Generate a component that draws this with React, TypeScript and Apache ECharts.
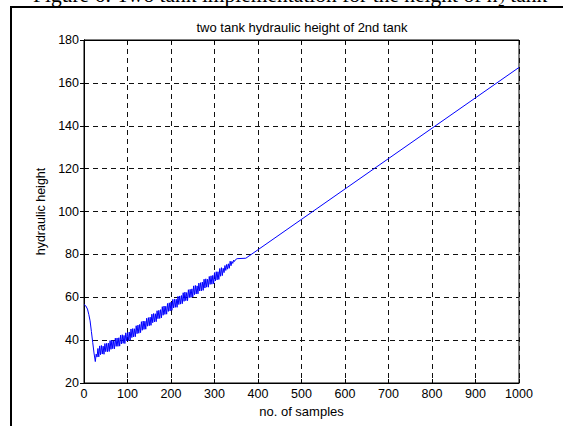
import React, { useEffect, useRef } from "react";
import * as echarts from "echarts";

const CAPTION = "Figure 6: Two tank implementation for the height of h\u2082 tank";
const TITLE = "two tank hydraulic height of 2nd tank";
const X_NAME = "no. of samples";
const Y_NAME = "hydraulic height";

const X_TICKS = [0, 100, 200, 300, 400, 500, 600, 700, 800, 900, 1000];
const Y_TICKS = [20, 40, 60, 80, 100, 120, 140, 160, 180];

// sample index
const samples = [
  0, 4, 8, 11, 14, 17, 20, 23, 26,
  28, 30, 32, 34, 36, 38, 40, 42, 44, 46, 48, 50, 52, 54, 56, 58, 60, 62, 64, 66, 68, 70,
  72, 74, 76, 78, 80, 82, 84, 86, 88, 90, 92, 94, 96, 98, 100, 102, 104, 106, 108, 110,
  112, 114, 116, 118, 120, 122, 124, 126, 128, 130, 132, 134, 136, 138, 140, 142, 144, 146, 148, 150,
  152, 154, 156, 158, 160, 162, 164, 166, 168, 170, 172, 174, 176, 178, 180, 182, 184, 186, 188, 190,
  192, 194, 196, 198, 200, 202, 204, 206, 208, 210, 212, 214, 216, 218, 220, 222, 224, 226, 228, 230,
  232, 234, 236, 238, 240, 242, 244, 246, 248, 250, 252, 254, 256, 258, 260, 262, 264, 266, 268, 270,
  272, 274, 276, 278, 280, 282, 284, 286, 288, 290, 292, 294, 296, 298, 300, 302, 304, 306, 308, 310,
  312, 314, 316, 318, 320, 322, 324, 326, 328, 330, 332, 334, 336, 338, 340, 342, 344, 346, 348,
  352, 372, 1000,
];

// hydraulic height of 2nd tank
const heights = [
  56.6, 56.0, 54.5, 52.0, 49.0, 44.0, 39.0, 34.0, 30.0,
  33.5, 32.1, 36.1, 32.2, 37.3, 33.2, 37.5, 33.5, 37.2, 33.4, 38.4, 34.6, 38.5, 34.6, 38.6, 34.7, 39.8, 35.7, 40.0, 36.0, 39.7, 35.9,
  40.9, 37.1, 41.0, 37.1, 41.1, 37.2, 42.3, 38.2, 42.5, 38.5, 42.2, 38.4, 43.4, 39.6, 43.5, 39.7, 43.8, 40.0, 45.2, 41.2,
  45.4, 41.5, 45.3, 41.6, 46.7, 43.0, 47.0, 43.2, 47.3, 43.5, 48.6, 44.6, 48.9, 45.0, 48.8, 45.1, 50.2, 46.5, 50.5, 46.7,
  50.7, 46.9, 52.1, 48.1, 52.4, 48.5, 52.3, 48.6, 53.7, 50.0, 53.9, 50.1, 54.2, 50.4, 55.6, 51.6, 55.9, 52.0, 55.8, 52.1,
  57.1, 53.4, 57.4, 53.6, 57.7, 53.9, 59.0, 55.0, 59.2, 55.3, 59.1, 55.3, 60.4, 56.6, 60.6, 56.8, 60.8, 57.0, 62.1, 58.1,
  62.4, 58.4, 62.2, 58.4, 63.5, 59.8, 63.7, 59.9, 63.9, 60.1, 65.3, 61.2, 65.5, 61.5, 65.3, 61.6, 66.6, 62.9, 66.8, 63.0,
  67.1, 63.2, 68.4, 64.3, 68.6, 64.7, 68.4, 64.7, 69.7, 66.0, 70.0, 66.1, 70.2, 66.3, 71.5, 67.6, 71.9, 68.1, 71.9, 68.3,
  73.4, 69.8, 73.8, 70.1, 73.5, 71.5, 74.8, 72.5, 75.3, 73.1, 75.6, 73.5, 76.8, 74.7, 76.7, 75.8, 77.3, 76.7, 77.5,
  78.0, 78.2, 167.2,
];

const FONT = "'Liberation Sans', Arial, sans-serif";

export default function App() {
  const ref = useRef<HTMLDivElement>(null);

  useEffect(() => {
    if (!ref.current) return;
    const chart = echarts.init(ref.current, undefined, { renderer: "svg" });
    const data = samples.map((s, i) => [s, heights[i]]);
    const xMin = X_TICKS[0];
    const xMax = X_TICKS[X_TICKS.length - 1];
    const yMin = Y_TICKS[0];
    const yMax = Y_TICKS[Y_TICKS.length - 1];
    const splitStyle = { show: true, lineStyle: { color: "#111", width: 1, type: [5, 4] as any } };
    const tickStyle = { show: true, inside: true, length: 4, lineStyle: { color: "#000", width: 1 } };
    const fmt = (v: number) => String(v);
    chart.setOption({
      animation: false,
      backgroundColor: "#fff",
      title: {
        text: TITLE,
        left: 302,
        top: 21,
        padding: 0,
        textAlign: "center",
        textStyle: { fontSize: 13, fontWeight: "normal", color: "#000", fontFamily: FONT },
      },
      grid: {
        left: 84,
        right: 44,
        top: 40,
        bottom: 43,
        show: true,
        borderColor: "#000",
        borderWidth: 1,
        backgroundColor: "transparent",
      },
      xAxis: [
        {
          type: "value",
          min: xMin,
          max: xMax,
          interval: 100,
          position: "bottom",
          name: X_NAME,
          nameLocation: "middle",
          nameGap: 13,
          nameTextStyle: { fontSize: 13, color: "#000", fontFamily: FONT },
          axisLine: { show: true, lineStyle: { color: "#000", width: 1 } },
          axisTick: tickStyle,
          axisLabel: { fontSize: 12.5, color: "#000", margin: 4, fontFamily: FONT, formatter: fmt },
          splitLine: splitStyle,
        },
        {
          type: "value",
          min: xMin,
          max: xMax,
          interval: 100,
          position: "top",
          axisLine: { show: true, lineStyle: { color: "#000", width: 1 } },
          axisTick: tickStyle,
          axisLabel: { show: false },
          splitLine: { show: false },
        },
      ],
      yAxis: [
        {
          type: "value",
          min: yMin,
          max: yMax,
          interval: 20,
          position: "left",
          name: Y_NAME,
          nameLocation: "middle",
          nameGap: 34,
          nameRotate: 90,
          nameTextStyle: { fontSize: 12.5, color: "#000", fontFamily: FONT },
          axisLine: { show: true, lineStyle: { color: "#000", width: 1 } },
          axisTick: tickStyle,
          axisLabel: { fontSize: 12.5, color: "#000", margin: 5, fontFamily: FONT, formatter: fmt },
          splitLine: splitStyle,
        },
        {
          type: "value",
          min: yMin,
          max: yMax,
          interval: 20,
          position: "right",
          axisLine: { show: true, lineStyle: { color: "#000", width: 1 } },
          axisTick: tickStyle,
          axisLabel: { show: false },
          splitLine: { show: false },
        },
      ],
      graphic: [
        {
          type: "rect",
          silent: true,
          shape: { x: 11, y: 7, width: 700, height: 600 },
          style: { fill: "none", stroke: "#000", lineWidth: 2 },
        },
        {
          type: "text",
          silent: true,
          x: 33,
          y: -16,
          style: {
            text: CAPTION,
            fontSize: 21.5,
            fontFamily: "'Liberation Serif', 'Times New Roman', serif",
            fill: "#000",
            verticalAlign: "top",
            align: "left",
          },
        },
      ],
      series: [
        {
          type: "line",
          xAxisIndex: 0,
          yAxisIndex: 0,
          data,
          showSymbol: false,
          symbol: "none",
          lineStyle: { color: "#0000ff", width: 1 },
          itemStyle: { color: "#0000ff" },
        },
      ],
    });
    return () => chart.dispose();
  }, []);

  return (
    <div
      ref={ref}
      style={{ position: "fixed", left: 0, top: 0, width: 563, height: 426, background: "#fff" }}
    />
  );
}
